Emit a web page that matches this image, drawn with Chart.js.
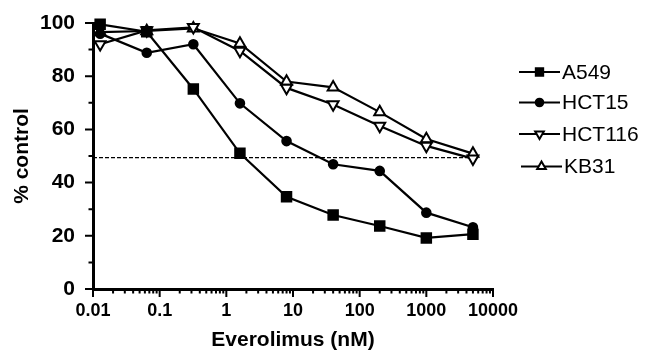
<!DOCTYPE html>
<html>
<head>
<meta charset="utf-8">
<script src="https://cdn.jsdelivr.net/npm/chart.js@4.4.1/dist/chart.umd.min.js"></script>
<style>
  html, body { margin: 0; padding: 0; background: #fff; }
  #wrap { width: 646px; height: 352px; }
</style>
</head>
<body>
<div id="wrap"><canvas id="chart" width="646" height="352"></canvas></div>
<script>
// Everolimus dose (nM), 5-fold dilutions
const doses = [0.0128, 0.064, 0.32, 1.6, 8, 40, 200, 1000, 5000];

// % of control per cell line
const a549 = [99.5, 96.7, 75.2, 51.0, 34.7, 27.8, 23.7, 19.2, 20.6];
const hct15 = [96.0, 88.8, 92.0, 69.8, 55.6, 46.9, 44.4, 28.7, 23.2];
const hct116 = [92.0, 97.2, 98.4, 89.5, 75.6, 69.4, 61.3, 53.8, 49.0];
const kb31 = [96.6, 97.0, 98.0, 92.3, 78.0, 75.8, 66.5, 56.4, 50.9];

// 50% reference line
const halfX = [0.01, 6000];
const halfY = [49.4, 49.4];

const xTicks = [0.01, 0.1, 1, 10, 100, 1000, 10000];
const yTicks = [0, 20, 40, 60, 80, 100];
const yMinorTicks = [10, 30, 50, 70, 90];

const FONT = "Arial, 'Liberation Sans', Helvetica, sans-serif";

function toPoints(xs, ys) {
  return xs.map((x, i) => ({ x: x, y: ys[i] }));
}

const lineSets = [
  { label: "A549", data: a549, style: "rect", radius: 6.7, rotation: 0, fill: "#000", legendRadius: 5.2 },
  { label: "HCT15", data: hct15, style: "circle", radius: 4.3, rotation: 0, fill: "#000", legendRadius: 3.8 },
  { label: "HCT116", data: hct116, style: "triangle", radius: 6.3, rotation: 180, fill: "#fff", legendRadius: 5 },
  { label: "KB31", data: kb31, style: "triangle", radius: 6.3, rotation: 0, fill: "#fff", legendRadius: 5 },
];

const datasets = lineSets.map((s) => ({
  label: s.label,
  data: toPoints(doses, s.data),
  borderColor: "#000",
  borderWidth: 2.2,
  backgroundColor: s.fill,
  pointStyle: s.style,
  pointRadius: s.radius,
  pointRotation: s.rotation,
  pointBackgroundColor: s.fill,
  pointBorderColor: "#000",
  pointBorderWidth: 2,
  tension: 0,
  clip: false,
}));

datasets.push({
  label: "50%",
  data: toPoints(halfX, halfY),
  borderColor: "#000",
  borderWidth: 1.3,
  borderDash: [4, 2],
  pointRadius: 0,
  tension: 0,
  clip: false,
});

// small tick marks on both axes (major + minor)
const axisTicks = {
  id: "axisTicks",
  afterDraw(chart) {
    const { ctx, chartArea } = chart;
    const xs = chart.scales.x;
    const ys = chart.scales.y;
    const bottom = chartArea.bottom;
    const left = chartArea.left;
    ctx.save();
    ctx.strokeStyle = "#000";
    ctx.lineWidth = 2;
    ctx.beginPath();
    xTicks.forEach((v, i) => {
      const px = xs.getPixelForValue(v);
      ctx.moveTo(px, bottom);
      ctx.lineTo(px, bottom + 8);
      if (i < xTicks.length - 1) {
        for (let k = 2; k <= 9; k++) {
          const mx = xs.getPixelForValue(v * k);
          ctx.moveTo(mx, bottom);
          ctx.lineTo(mx, bottom + 4.5);
        }
      }
    });
    yTicks.forEach((v) => {
      const py = ys.getPixelForValue(v);
      ctx.moveTo(left, py);
      ctx.lineTo(left - 8, py);
    });
    yMinorTicks.forEach((v) => {
      const py = ys.getPixelForValue(v);
      ctx.moveTo(left, py);
      ctx.lineTo(left - 4.5, py);
    });
    ctx.stroke();
    ctx.restore();
  },
};

function drawMarker(ctx, style, x, y, r, rotation, fill) {
  ctx.beginPath();
  if (style === "rect") {
    const h = r * Math.SQRT1_2;
    ctx.rect(x - h, y - h, 2 * h, 2 * h);
  } else if (style === "circle") {
    ctx.arc(x, y, r, 0, Math.PI * 2);
  } else {
    let a = (rotation * Math.PI) / 180;
    ctx.moveTo(x + Math.sin(a) * r, y - Math.cos(a) * r);
    a += (2 * Math.PI) / 3;
    ctx.lineTo(x + Math.sin(a) * r, y - Math.cos(a) * r);
    a += (2 * Math.PI) / 3;
    ctx.lineTo(x + Math.sin(a) * r, y - Math.cos(a) * r);
    ctx.closePath();
  }
  ctx.fillStyle = fill;
  ctx.fill();
  ctx.stroke();
}

// legend: line segment with marker, then the name
const sideLegend = {
  id: "sideLegend",
  afterDraw(chart) {
    const ctx = chart.ctx;
    const rows = [72, 102.5, 134, 166.5];
    ctx.save();
    ctx.strokeStyle = "#000";
    ctx.lineWidth = 2.2;
    ctx.font = "21px " + FONT;
    ctx.textBaseline = "middle";
    ctx.fillStyle = "#000";
    lineSets.forEach((s, i) => {
      const y = rows[i];
      const x0 = i === 3 ? 521 : 519;
      ctx.beginPath();
      ctx.moveTo(x0, y);
      ctx.lineTo(x0 + 41, y);
      ctx.stroke();
      ctx.lineWidth = 2;
      drawMarker(ctx, s.style, x0 + 20.5, y, s.legendRadius, s.rotation, s.fill);
      ctx.lineWidth = 2.2;
      ctx.fillStyle = "#000";
      ctx.fillText(s.label, x0 + 43, y + 1);
    });
    ctx.restore();
  },
};

const ctx = document.getElementById("chart").getContext("2d");

const chart = new Chart(ctx, {
  type: "line",
  data: { datasets: datasets },
  options: {
    responsive: false,
    devicePixelRatio: 1,
    animation: false,
    layout: { padding: { left: 0, right: 153, top: 23, bottom: 0 } },
    plugins: {
      legend: { display: false },
      tooltip: { enabled: false },
    },
    scales: {
      x: {
        type: "logarithmic",
        min: 0.01,
        max: 10000,
        afterBuildTicks: (scale) => {
          scale.ticks = xTicks.map((v) => ({ value: v }));
        },
        afterFit: (scale) => {
          scale.height = 63;
        },
        grid: { display: false },
        border: { display: true, color: "#000", width: 3 },
        ticks: {
          color: "#000",
          padding: 3,
          maxRotation: 0,
          autoSkip: false,
          font: { family: FONT, size: 18, weight: "bold" },
          callback: (v) => String(v),
        },
        title: {
          display: true,
          text: "Everolimus (nM)",
          color: "#000",
          padding: { top: 0, bottom: -1 },
          font: { family: FONT, size: 21, weight: "bold" },
        },
      },
      y: {
        min: 0,
        max: 100,
        afterBuildTicks: (scale) => {
          scale.ticks = yTicks.map((v) => ({ value: v }));
        },
        afterFit: (scale) => {
          scale.width = 93;
        },
        grid: { display: false },
        border: { display: true, color: "#000", width: 3 },
        ticks: {
          color: "#000",
          padding: 10,
          font: { family: FONT, size: 21, weight: "bold" },
        },
        title: {
          display: true,
          text: "% control",
          color: "#000",
          padding: { top: 10, bottom: 0 },
          font: { family: FONT, size: 21, weight: "bold" },
        },
      },
    },
  },
  plugins: [axisTicks, sideLegend],
});
</script>
</body>
</html>
